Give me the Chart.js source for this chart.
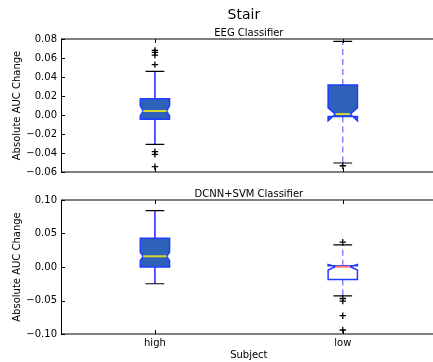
<!DOCTYPE html>
<html>
<head>
<meta charset="utf-8">
<script src="https://cdn.jsdelivr.net/npm/chart.js@4.4.1/dist/chart.umd.min.js"></script>
<style>
html, body { margin: 0; padding: 0; background: #fff; overflow: hidden; width: 433px; height: 362px; }
#top { position: absolute; left: 0; top: 0; width: 442px; height: 182px; }
#bot { position: absolute; left: 0; top: 180px; width: 442px; height: 182px; }
</style>
</head>
<body>
<div id="top"><canvas id="eegChart"></canvas></div>
<div id="bot"><canvas id="dcnnChart"></canvas></div>
<script>
var subjects = ['high', 'low'];

// EEG classifier boxes
var eegLow = [-0.031, -0.0505];
var eegQ1 = [-0.0045, -0.0015];
var eegMedian = [0.0042, 0.001];
var eegQ3 = [0.017, 0.0315];
var eegHigh = [0.046, 0.0776];
var eegNotchLo = [-0.001, -0.006];
var eegNotchHi = [0.0098, 0.0074];
var eegFliers = [[0.068, 0.066, 0.063, 0.053, -0.0386, -0.0414, -0.0544], [-0.0534]];

// DCNN+SVM classifier boxes
var dcnnLow = [-0.025, -0.043];
var dcnnQ1 = [0.0, -0.0185];
var dcnnMedian = [0.016, 0.0005];
var dcnnQ3 = [0.043, 0.002];
var dcnnHigh = [0.084, 0.033];
var dcnnNotchLo = [0.0094, -0.0045];
var dcnnNotchHi = [0.022, 0.0037];
var dcnnFliers = [[], [0.037, -0.047, -0.051, -0.0727, -0.094]];

var solidBox = { fill: '#2e62b8', edge: '#1f3cff', median: '#d6d636', whisker: '#0000ff', dash: [], notch: 0.2 };
var dashBox = { fill: '#2e62b8', edge: '#1f3cff', median: '#d6d636', whisker: '#7373ff', dash: [6, 4], notch: 0.5 };
var openBox = { fill: '#ffffff', edge: '#1f3cff', median: '#ff7070', whisker: '#7373ff', dash: [6, 4], notch: 0.5 };

Chart.defaults.font.family = "'DejaVu Sans', sans-serif";
Chart.defaults.font.size = 10;
Chart.defaults.color = '#000';

function fmt(v) {
    var s = Math.abs(v).toFixed(2);
    return (v < -1e-9 ? '\u2212' : '') + s;
}

function flierPoints(list) {
    var pts = [];
    list.forEach(function (vals, i) {
        vals.forEach(function (v) { pts.push({ x: subjects[i], y: v }); });
    });
    return pts;
}

var boxPlugin = {
    id: 'boxes',
    beforeDatasetsDraw: function (chart) {
        var o = chart.options.plugins.boxes;
        var x = chart.scales.x, y = chart.scales.y, ctx = chart.ctx;
        var step = x.getPixelForValue(1) - x.getPixelForValue(0);
        var half = step * 0.078;
        var cap = step * 0.05;
        ctx.save();
        subjects.forEach(function (lab, i) {
            var st = o.styles[i];
            var cx = x.getPixelForValue(i);
            var pq1 = y.getPixelForValue(o.q1[i]), pq3 = y.getPixelForValue(o.q3[i]);
            var pmed = y.getPixelForValue(o.median[i]);
            var plo = y.getPixelForValue(o.low[i]), phi = y.getPixelForValue(o.high[i]);
            var pnl = y.getPixelForValue(o.notchLo[i]), pnh = y.getPixelForValue(o.notchHi[i]);
            // whiskers
            ctx.strokeStyle = st.whisker;
            ctx.lineWidth = 1.3;
            ctx.setLineDash(st.dash);
            ctx.beginPath();
            ctx.moveTo(cx, pq3); ctx.lineTo(cx, phi);
            ctx.moveTo(cx, pq1); ctx.lineTo(cx, plo);
            ctx.stroke();
            ctx.setLineDash([]);
            // caps
            ctx.strokeStyle = '#000';
            ctx.lineWidth = 1.2;
            ctx.beginPath();
            ctx.moveTo(cx - cap, phi); ctx.lineTo(cx + cap, phi);
            ctx.moveTo(cx - cap, plo); ctx.lineTo(cx + cap, plo);
            ctx.stroke();
            // notched box
            var l = cx - half, r = cx + half, ci = half * (1 - st.notch);
            ctx.beginPath();
            ctx.moveTo(l, pq1);
            ctx.lineTo(l, pnl);
            ctx.lineTo(cx - ci, pmed);
            ctx.lineTo(l, pnh);
            ctx.lineTo(l, pq3);
            ctx.lineTo(r, pq3);
            ctx.lineTo(r, pnh);
            ctx.lineTo(cx + ci, pmed);
            ctx.lineTo(r, pnl);
            ctx.lineTo(r, pq1);
            ctx.closePath();
            ctx.fillStyle = st.fill;
            ctx.fill();
            ctx.strokeStyle = st.edge;
            ctx.lineWidth = 1.5;
            ctx.stroke();
            // median
            ctx.strokeStyle = st.median;
            ctx.lineWidth = 2;
            ctx.beginPath();
            ctx.moveTo(cx - ci, pmed); ctx.lineTo(cx + ci, pmed);
            ctx.stroke();
        });
        ctx.restore();
    }
};

var framePlugin = {
    id: 'frame',
    afterDraw: function (chart) {
        var o = chart.options.plugins.frame;
        var a = chart.chartArea, ctx = chart.ctx;
        var x = chart.scales.x, y = chart.scales.y;
        ctx.save();
        ctx.strokeStyle = '#000';
        ctx.lineWidth = 1;
        ctx.beginPath();
        ctx.moveTo(a.left + 0.5, a.top); ctx.lineTo(a.left + 0.5, a.bottom);
        ctx.moveTo(a.left, a.top); ctx.lineTo(a.right, a.top);
        ctx.moveTo(a.left, a.bottom); ctx.lineTo(a.right, a.bottom);
        y.ticks.forEach(function (t, k) {
            var py = Math.round(y.getPixelForTick(k)) + 0.5;
            ctx.moveTo(a.left, py); ctx.lineTo(a.left + 4, py);
        });
        subjects.forEach(function (lab, i) {
            var px = Math.round(x.getPixelForValue(i)) + 0.5;
            ctx.moveTo(px, a.top); ctx.lineTo(px, a.top + 4);
            ctx.moveTo(px, a.bottom); ctx.lineTo(px, a.bottom - 4);
        });
        ctx.stroke();
        ctx.fillStyle = '#000';
        ctx.textAlign = 'center';
        ctx.textBaseline = 'alphabetic';
        var mid = (a.left + a.right) / 2;
        if (o.title) {
            ctx.font = "14px 'DejaVu Sans'";
            ctx.fillText(o.title, mid - 5, 19);
        }
        ctx.font = "10px 'DejaVu Sans'";
        ctx.fillText(o.subtitle, mid, a.top - 3.5);
        ctx.restore();
    }
};

function makeChart(id, opts) {
    return new Chart(document.getElementById(id), {
        type: 'scatter',
        data: {
            labels: subjects,
            datasets: [{
                data: flierPoints(opts.fliers),
                pointStyle: 'cross',
                pointRadius: 3.2,
                borderColor: '#000',
                backgroundColor: '#000',
                borderWidth: 1.3
            }]
        },
        options: {
            responsive: true,
            maintainAspectRatio: false,
            animation: false,
            events: [],
            layout: { padding: opts.padding },
            plugins: {
                legend: { display: false },
                tooltip: { enabled: false },
                boxes: opts.boxes,
                frame: { title: opts.title, subtitle: opts.subtitle }
            },
            scales: {
                x: {
                    type: 'category',
                    labels: subjects,
                    offset: true,
                    display: opts.showX,
                    grid: { display: false, drawTicks: false },
                    border: { display: false },
                    ticks: { padding: 3, maxRotation: 0 },
                    title: { display: true, text: 'Subject', padding: { top: 0, bottom: 1 } },
                    afterFit: function (s) { s.height = opts.showX ? 28 : 0; }
                },
                y: {
                    min: opts.yMin,
                    max: opts.yMax,
                    grid: { display: false, drawTicks: false },
                    border: { display: false },
                    ticks: { stepSize: opts.yStep, padding: 4, callback: fmt },
                    title: { display: true, text: 'Absolute AUC Change', padding: { top: 11, bottom: 0 } },
                    afterFit: function (s) { s.width = 61; }
                }
            }
        },
        plugins: [boxPlugin, framePlugin]
    });
}

makeChart('eegChart', {
    title: 'Stair',
    subtitle: 'EEG Classifier',
    showX: false,
    padding: { top: 39, bottom: 0, left: 0, right: 0 },
    yMin: -0.06, yMax: 0.08, yStep: 0.02,
    fliers: eegFliers,
    boxes: {
        low: eegLow, q1: eegQ1, median: eegMedian, q3: eegQ3, high: eegHigh,
        notchLo: eegNotchLo, notchHi: eegNotchHi, styles: [solidBox, dashBox]
    }
});

makeChart('dcnnChart', {
    title: '',
    subtitle: 'DCNN+SVM Classifier',
    showX: true,
    padding: { top: 20, bottom: 0, left: 0, right: 0 },
    yMin: -0.1, yMax: 0.1, yStep: 0.05,
    fliers: dcnnFliers,
    boxes: {
        low: dcnnLow, q1: dcnnQ1, median: dcnnMedian, q3: dcnnQ3, high: dcnnHigh,
        notchLo: dcnnNotchLo, notchHi: dcnnNotchHi, styles: [solidBox, openBox]
    }
});
</script>
</body>
</html>
